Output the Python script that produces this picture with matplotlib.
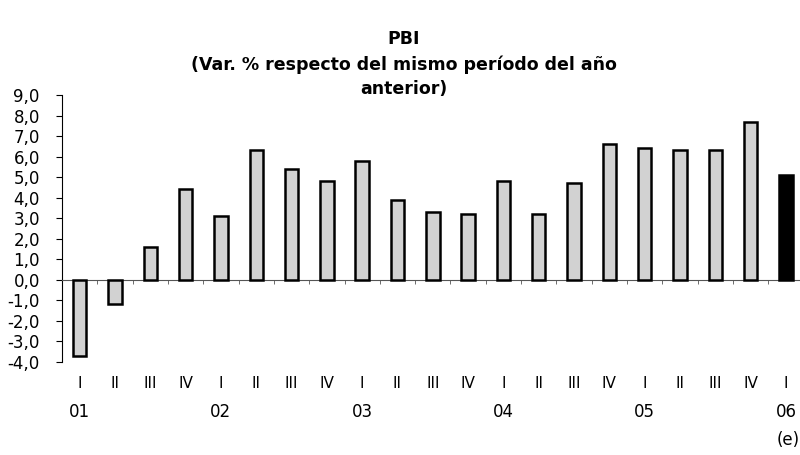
import numpy as np
import matplotlib
matplotlib.use('Agg')
import matplotlib.pyplot as plt
import matplotlib.transforms as mtransforms

plt.rcParams['font.family'] = ['DejaVu Sans']

# datos: PBI, var. % respecto del mismo periodo del año anterior
trimestres = ['I', 'II', 'III', 'IV'] * 5 + ['I']
anios = ['01', '02', '03', '04', '05', '06']
pbi = [-3.7, -1.2, 1.6, 4.4, 3.1, 6.3, 5.4, 4.8, 5.8, 3.9, 3.3,
       3.2, 4.8, 3.2, 4.7, 6.6, 6.4, 6.3, 6.3, 7.7, 5.1]

x = np.arange(len(pbi))
colores = ['#d2d2d2'] * (len(pbi) - 1) + ['black']

fig = plt.figure(figsize=(8, 4.55), dpi=100)
ax = fig.add_axes([0.0775, 0.205, 0.927, 0.586])

ax.bar(x, pbi, width=0.38, color=colores, edgecolor='black', linewidth=1.8, zorder=3)

ax.set_xlim(-0.5, 20.5)
ax.set_ylim(-4, 9)
ax.set_yticks(np.arange(-4, 10, 1))
ax.set_yticklabels([('%.1f' % v).replace('.', ',') for v in np.arange(-4, 10, 1)], fontsize=12)
ax.tick_params(axis='y', direction='out', length=4, width=0.8, pad=12)

# eje x en el cero, con marcas entre trimestres
ax.spines['top'].set_visible(False)
ax.spines['right'].set_visible(False)
ax.spines['bottom'].set_position(('data', 0))
ax.spines['bottom'].set_color('#555555')
ax.spines['bottom'].set_linewidth(0.8)
ax.spines['left'].set_linewidth(0.8)
ax.set_xticks(np.arange(-0.5, 20.5, 1))
ax.set_xticklabels([])
ax.tick_params(axis='x', direction='out', length=3, width=0.6, color='#555555')

trans = mtransforms.blended_transform_factory(ax.transData, ax.transAxes)
for i, q in enumerate(trimestres):
    ax.text(i, -0.08, q, transform=trans, ha='center', va='center', fontsize=11)
for k, a in enumerate(anios):
    ax.text(k * 4, -0.19, a, transform=trans, ha='center', va='center', fontsize=12)
ax.text(20.05, -0.295, '(e)', transform=trans, ha='center', va='center', fontsize=12)

fig.text(0.505, 0.859, 'PBI\n(Var. % respecto del mismo período del año\nanterior)',
         ha='center', va='center', fontsize=12.5, fontweight='bold', linespacing=1.45)

fig.savefig('out.png', dpi=100)
